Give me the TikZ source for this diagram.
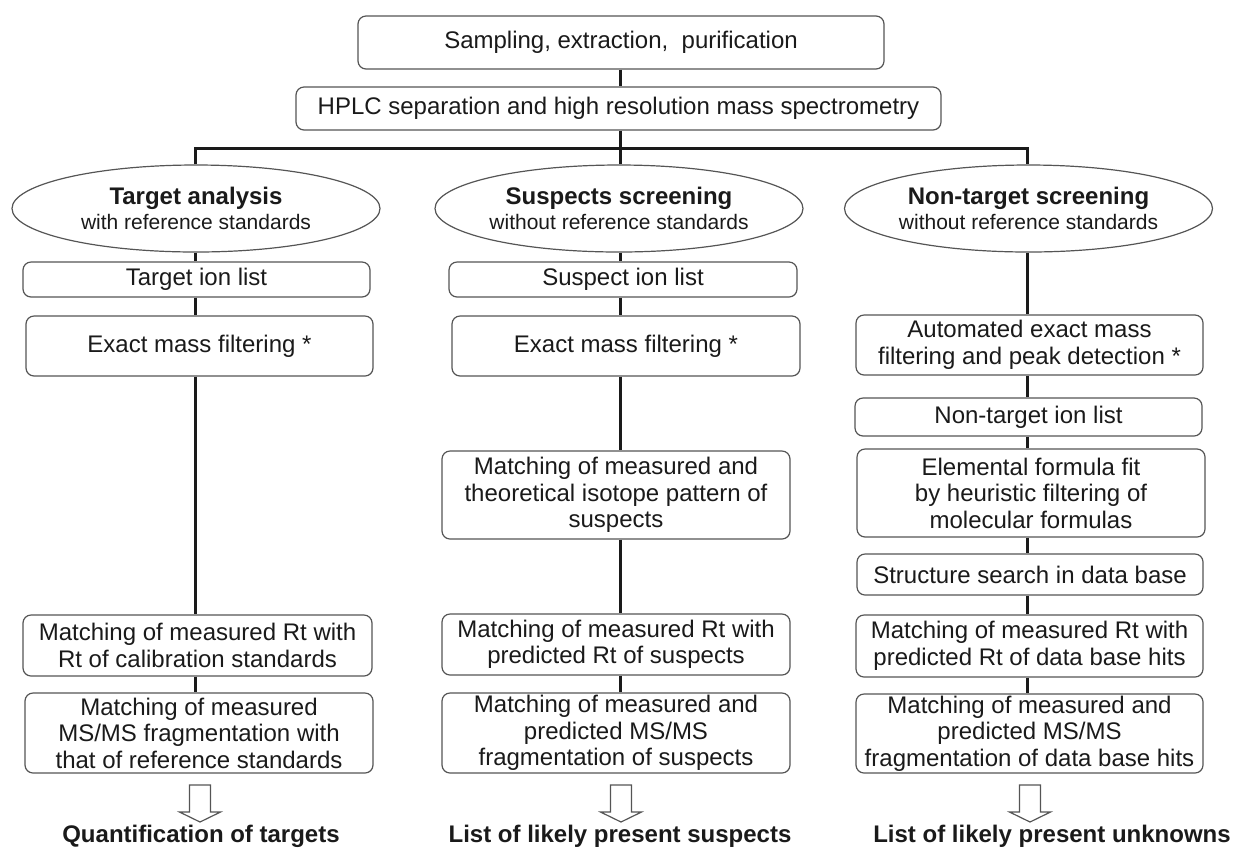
\documentclass[tikz,border=0pt]{standalone}
\usepackage{fontspec}
\setmainfont{Liberation Sans}
\usetikzlibrary{shapes.geometric}
\definecolor{ink}{HTML}{1A1A1A}
\definecolor{edge}{HTML}{555555}
% open block arrow hanging below a named coordinate
\newcommand\hollowarrow[1]{%
  \draw[hollow] (#1) ++(-10.5,0) -- ++(0,27) -- ++(-10,0) -- ++(20.5,10)
    -- ++(20.5,-10) -- ++(-10,0) -- ++(0,-27) -- cycle;}
\begin{document}
\begin{tikzpicture}[x=0.5pt,y=-0.5pt,
  box/.style={draw=edge, line width=0.6pt, rounded corners=4pt, fill=white,
    align=center, inner sep=0pt, text=ink,
    font=\fontsize{12}{13.25}\selectfont, minimum width=173.5pt},
  oval/.style={ellipse, draw=edge, line width=0.6pt, fill=white, align=center,
    inner sep=0pt, minimum width=184pt, minimum height=43.5pt, text=ink,
    font=\fontsize{10.5}{12.5}\selectfont},
  conn/.style={line width=1.5pt, draw=ink},
  hollow/.style={draw=edge, line width=0.6pt, fill=white, line join=miter},
  lab/.style={font=\bfseries\fontsize{12}{14}\selectfont, text=ink, inner sep=0pt}]
\useasboundingbox (0,0) rectangle (1236,848);

% common trunk
\node[box, minimum width=263pt, minimum height=26.5pt] (samp) at (621,42.5)
  {Sampling, extraction,\ \ purification};
\node[box, minimum width=322.5pt, minimum height=21.5pt] (hplc) at (618.5,108.5)
  {HPLC separation and high resolution mass spectrometry};
\coordinate (b1) at (195,148);
\coordinate (b0) at (620,148);
\coordinate (b2) at (1027,148);

% the three strategies
\node[oval] (e1) at (196,208.5)
  {{\fontsize{12}{12.5}\selectfont\bfseries Target analysis}\\with reference standards};
\node[oval] (e2) at (619,208.5)
  {{\fontsize{12}{12.5}\selectfont\bfseries Suspects screening}\\without reference standards};
\node[oval] (e3) at (1028.5,208.5)
  {{\fontsize{12}{12.5}\selectfont\bfseries Non-target screening}\\without reference standards};

% target analysis column
\node[box, minimum height=17.5pt] (t1) at (196.5,279.5) {Target ion list};
\node[box, minimum height=30pt] (t2) at (199.5,346) {Exact mass filtering *};
\node[box, minimum width=174.5pt, minimum height=30.5pt] (t3) at (197.5,645.5)
  {Matching of measured Rt with\\Rt of calibration standards};
\node[box, minimum width=174pt, minimum height=40pt] (t4) at (199,733)
  {Matching of measured\\MS/MS fragmentation with\\that of reference standards};

% suspects screening column
\node[box, minimum width=174pt, minimum height=17.5pt] (s1) at (623,279.5) {Suspect ion list};
\node[box, minimum width=174pt, minimum height=30pt] (s2) at (626,346) {Exact mass filtering *};
\node[box, minimum width=174pt, minimum height=44pt] (s3) at (616,495)
  {Matching of measured and\\theoretical isotope pattern of\\suspects};
\node[box, minimum width=174pt, minimum height=30.5pt] (s4) at (616,644.5)
  {Matching of measured Rt with\\predicted Rt of suspects};
\node[box, minimum width=174pt, minimum height=40pt] (s5) at (616,733)
  {Matching of measured and\\predicted MS/MS\\fragmentation of suspects};

% non-target screening column
\node[box, minimum height=30pt] (n1) at (1029.5,345)
  {Automated exact mass\\filtering and peak detection *};
\node[box, minimum height=19pt] (n2) at (1028.5,417) {Non-target ion list};
\node[box, minimum width=174pt, minimum height=44pt] (n3) at (1031,493)
  {Elemental formula fit\\by heuristic filtering of\\molecular formulas};
\node[box, minimum width=173pt, minimum height=20.5pt] (n4) at (1030,574.5)
  {Structure search in data base};
\node[box, minimum height=31pt] (n5) at (1029.5,646)
  {Matching of measured Rt with\\predicted Rt of data base hits};
\node[box, minimum height=39.5pt] (n6) at (1029.5,733.5)
  {Matching of measured and\\predicted MS/MS\\fragmentation of data base hits};

% connectors
\begin{scope}[on background layer/.style={}]
\draw[conn] (samp.south -| b0) -- (hplc.north -| b0);
\draw[conn] (hplc.south -| b0) -- (b0 |- e2.north);
\draw[conn] (b1 |- e1.north) -- (b1) -- (b2) -- (b2 |- e3.north);

\draw[conn] (e1.south -| b1) -- (t1.north -| b1);
\draw[conn] (t1.south -| b1) -- (t2.north -| b1);
\draw[conn] (t2.south -| b1) -- (t3.north -| b1);
\draw[conn] (t3.south -| b1) -- (t4.north -| b1);

\draw[conn] (e2.south -| b0) -- (s1.north -| b0);
\draw[conn] (s1.south -| b0) -- (s2.north -| b0);
\draw[conn] (s2.south -| b0) -- (s3.north -| b0);
\draw[conn] (s3.south -| b0) -- (s4.north -| b0);
\draw[conn] (s4.south -| b0) -- (s5.north -| b0);

\draw[conn] (e3.south -| b2) -- (n1.north -| b2);
\draw[conn] (n1.south -| b2) -- (n2.north -| b2);
\draw[conn] (n2.south -| b2) -- (n3.north -| b2);
\draw[conn] (n3.south -| b2) -- (n4.north -| b2);
\draw[conn] (n4.south -| b2) -- (n5.north -| b2);
\draw[conn] (n5.south -| b2) -- (n6.north -| b2);
\end{scope}

% outcomes
\coordinate (a1) at (200,785);
\coordinate (a2) at (621,785);
\coordinate (a3) at (1030,785);
\hollowarrow{a1}
\hollowarrow{a2}
\hollowarrow{a3}
\node[lab] (l1) at (201,836) {Quantification of targets};
\node[lab] (l2) at (620,836) {List of likely present suspects};
\node[lab] (l3) at (1052,836) {List of likely present unknowns};
\end{tikzpicture}
\end{document}
